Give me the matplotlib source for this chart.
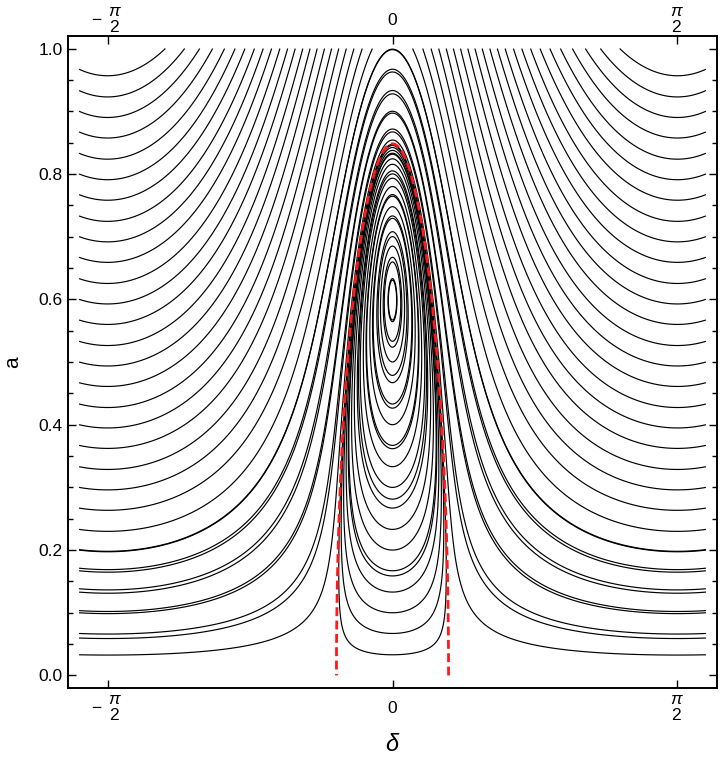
import numpy as np
import matplotlib
matplotlib.use("Agg")
import matplotlib.pyplot as plt
from matplotlib.ticker import FixedLocator, MultipleLocator

plt.rcParams['font.family'] = ['Liberation Sans', 'DejaVu Sans']
plt.rcParams['mathtext.fontset'] = 'custom'
plt.rcParams['mathtext.rm'] = 'Liberation Sans'
plt.rcParams['mathtext.it'] = 'Liberation Sans:italic'
plt.rcParams['lines.dashed_pattern'] = [3.2, 1.6]

sep_foot = 0.309    # |delta| where the separatrix meets a = 0
sep_top = 0.848     # a where the separatrix crosses delta = 0
delta_max = 1.728   # orbits are drawn for -delta_max < delta < delta_max

# heights a where the drawn orbits cross delta = 0 ...
a_centre = [0.033, 0.067, 0.100, 0.133, 0.167, 0.200, 0.233, 0.267, 0.300, 0.333,
            0.367, 0.400, 0.433, 0.467, 0.500, 0.533, 0.567, 0.600, 0.633, 0.667,
            0.700, 0.733, 0.767, 0.800, 0.833, 0.867, 0.900, 0.933, 0.967, 0.999]
# ... and where they leave the left / right edge
a_edge = [0.033, 0.067, 0.100, 0.133, 0.167, 0.200, 0.233, 0.267, 0.300, 0.333,
          0.367, 0.400, 0.433, 0.467, 0.500, 0.533, 0.567, 0.600, 0.633, 0.667,
          0.700, 0.733, 0.767, 0.800, 0.833, 0.867, 0.900, 0.933, 0.967]

x_ticks = [-np.pi / 2, 0, np.pi / 2]
x_ticklabels = [r'$\genfrac{}{}{0}{0}{\pi}{2}$', '0', r'$\genfrac{}{}{0}{0}{\pi}{2}$']
x_tickminus = [True, False, False]
y_ticks = [0.0, 0.2, 0.4, 0.6, 0.8, 1.0]
y_ticklabels = ['0.0', '0.2', '0.4', '0.6', '0.8', '1.0']

c = np.cos(2 * sep_foot)
b = (1 - c) / sep_top**2


def ham(d, a):
    return a**2 * (np.cos(2 * d) - c) - b * a**4


d = np.linspace(-delta_max, delta_max, 1500)
a = np.linspace(0, 1, 1100)
D, A = np.meshgrid(d, a)

levels = np.unique(np.concatenate([ham(0.0, np.array(a_centre)),
                                   ham(-delta_max, np.array(a_edge))]))

fig = plt.figure(figsize=(7.2, 7.58), dpi=100)
ax = fig.add_axes([68 / 720, 70 / 758, 649 / 720, 652 / 758])

ax.contour(D, A, ham(D, A), levels=levels, colors='black', linewidths=0.85,
           linestyles='solid')
ax.contour(D, A, np.cos(2 * D) - c - b * A**2, levels=[0], colors='#ff1a1a',
           linewidths=2.0, linestyles='dashed')

ax.set_xlim(-1.789, 1.789)
ax.set_ylim(-0.02, 1.02)

ax.xaxis.set_major_locator(FixedLocator(x_ticks))
ax.set_xticklabels([])
ax.set_yticks(y_ticks)
ax.set_yticklabels(y_ticklabels)
ax.yaxis.set_minor_locator(MultipleLocator(0.05))

ax.tick_params(which='both', direction='in', top=True, right=True,
               labelright=False, labelsize=12.5, width=1.0)
ax.tick_params(which='major', length=6, pad=4)
ax.tick_params(which='minor', length=3.5)
for s in ax.spines.values():
    s.set_linewidth(1.4)

# x tick labels on bottom and top, Mathematica style (minus beside the fraction)
for xt, lab, neg in zip(x_ticks, x_ticklabels, x_tickminus):
    for yfrac, dy in [(0, -14.5), (1, 11.5)]:
        dx = 5 if neg else 0
        ax.annotate(lab, xy=(xt, yfrac), xycoords=('data', 'axes fraction'),
                    xytext=(dx, dy), textcoords='offset points',
                    ha='center', va='center', fontsize=12.5)
        if neg:
            ax.annotate('\u2212', xy=(xt, yfrac), xycoords=('data', 'axes fraction'),
                        xytext=(-8, dy), textcoords='offset points',
                        ha='center', va='center', fontsize=12.5)

fig.text(393 / 720, 1 - 745 / 758, r'$\delta$', ha='center', va='center', fontsize=17)
fig.text(13 / 720, 1 - 362 / 758, 'a', ha='center', va='center', fontsize=15, rotation=90)

fig.savefig('out.png', dpi=100)
